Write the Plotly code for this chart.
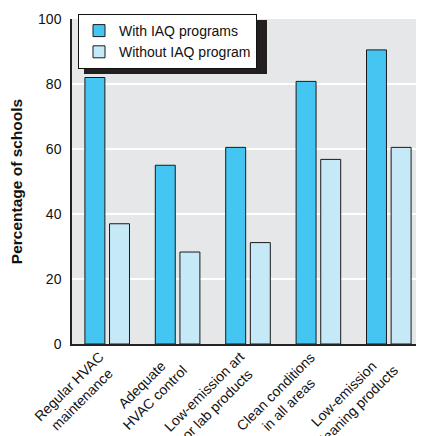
import plotly.graph_objects as go

categories = ["Regular HVAC<br>maintenance", "Adequate<br>HVAC control",
              "Low-emission art<br>or lab products", "Clean conditions<br>in all areas",
              "Low-emission<br>cleaning products"]
with_iaq = [82, 55, 60.5, 80.8, 90.5]
without_iaq = [37, 28.3, 31.2, 56.8, 60.5]
series_names = ["With IAQ programs", "Without IAQ program"]
y_ticks = [0, 20, 40, 60, 80, 100]

FONT = "Liberation Sans, Arial, sans-serif"

fig = go.Figure()
fig.add_trace(go.Bar(x=categories, y=with_iaq, name=series_names[0],
                     marker=dict(color="#45c6f2", line=dict(color="#1a1a1a", width=1))))
fig.add_trace(go.Bar(x=categories, y=without_iaq, name=series_names[1],
                     marker=dict(color="#c6e9f8", line=dict(color="#1a1a1a", width=1))))

# category labels: centred two-line texts rotated 45 degrees under each group
for cat in categories:
    fig.add_annotation(x=cat, y=0, xref="x", yref="y", text=cat, showarrow=False,
                       textangle=-45, align="center", xanchor="right", yanchor="top",
                       xshift=15, yshift=-2,
                       font=dict(family=FONT, size=14, color="#111"))

# the page body keeps its default 8px margin, so the figure sits at (8, 8)
OFF = 8
W, H = 424 - OFF, 436 - OFF
ml, mr, mt, mb = 72 - OFF, 0, 19 - OFF, 436 - 344
pw, ph = W - ml - mr, H - mt - mb

def px_x(p):
    return (p - OFF - ml) / pw

def px_y(p):
    return 1 - (p - OFF - mt) / ph

fig.update_layout(
    width=W, height=H,
    margin=dict(l=ml, r=mr, t=mt, b=mb, pad=0, autoexpand=False),
    paper_bgcolor="white",
    plot_bgcolor="#e6e7e8",
    barmode="group",
    bargap=0.30,
    bargroupgap=0.19,
    font=dict(family=FONT, size=13, color="#111"),
    showlegend=True,
    legend=dict(x=px_x(78), y=px_y(14), xanchor="left", yanchor="top",
                bgcolor="white", bordercolor="#111", borderwidth=1,
                font=dict(family=FONT, size=14, color="#111"),
                tracegroupgap=0, itemwidth=30),
    xaxis=dict(range=[-0.5, 4.5], showticklabels=False, showgrid=False, automargin=False,
               showline=True, linecolor="#222", linewidth=1.5, ticks=""),
    yaxis=dict(range=[0, 100], tickvals=y_ticks, showgrid=True, gridcolor="white",
               gridwidth=1.5, zeroline=False, showline=True, linecolor="#222",
               linewidth=1.5, ticks="", ticklabelstandoff=6, automargin=False,
               tickfont=dict(family=FONT, size=14, color="#111"),
               title=dict(text="<b>Percentage of schools</b>", standoff=14,
                          font=dict(family=FONT, size=15.5, color="#111"))),
    shapes=[dict(type="rect", xref="paper", yref="paper",
                 x0=px_x(84), x1=px_x(267), y0=px_y(74), y1=px_y(20),
                 fillcolor="#231f20", line=dict(width=0), layer="above")],
)

fig.write_html("out.html", config={"displayModeBar": False})
